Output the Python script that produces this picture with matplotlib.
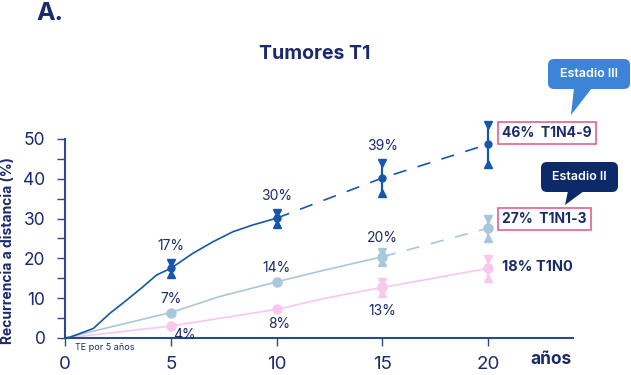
import matplotlib.pyplot as plt
from matplotlib.patches import FancyBboxPatch, Polygon

plt.rcParams['font.family'] = ['Inter', 'DejaVu Sans']

navy = '#1b2a6b'
axis_col = '#2b4a8a'
c_n49 = '#1657ad'
c_n13 = '#a9c7da'
c_n0 = '#f9c6ee'
box_edge = '#e2648e'

years = [5, 10, 15, 20]

# T1N4-9 : solid curve up to 10 years, dashed after
n49_curve_x = [0, 0.24, 1.34, 2.12, 2.91, 3.69, 4.32, 5, 6.05, 7.0, 7.94, 8.88, 10]
n49_curve_y = [0, 0.2, 2.4, 6.2, 9.5, 12.9, 15.8, 17.5, 21.3, 24.2, 26.7, 28.4, 30.1]
n49_pts = [17.5, 30.1, 40.2, 48.7]
n49_err = [1.4, 1.4, 3.8, 4.9]
n49_lbl = ['17%', '30%', '39%']

# T1N1-3 : solid up to 15 years, dashed after
n13_curve_x = [0, 5, 7.3, 10, 12.3, 15]
n13_curve_y = [0, 6.4, 10.4, 14.1, 17.1, 20.4]
n13_pts = [6.4, 14.1, 20.4, 27.6]
n13_err = [0, 0, 1.25, 2.4]
n13_lbl = ['7%', '14%', '20%']

# T1N0
n0_curve_x = [0, 5, 10, 12.3, 15, 20]
n0_curve_y = [0, 3.0, 7.2, 10.0, 12.7, 17.5]
n0_pts = [3.0, 7.2, 12.7, 17.5]
n0_err = [0, 0, 1.4, 2.4]
n0_lbl = ['4%', '8%', '13%']

end_lbl = ['46%  T1N4-9', '27%  T1N1-3', '18% T1N0']
stage_lbl = ['Estadio III', 'Estadio II']

fig = plt.figure(figsize=(6.31, 3.75), dpi=100)
ax = fig.add_axes([65 / 631, 37 / 375, 508 / 631, 219 / 375])
ax.set_xlim(0, 24)
ax.set_ylim(0, 55)


def errbars(xs, ys, es, col):
    for x, y, e in zip(xs, ys, es):
        if e <= 0:
            continue
        ax.plot([x, x], [y - e, y + e], color=col, lw=1.6, zorder=4)
        ax.plot(x, y + e, marker='v', color=col, ms=6, zorder=4)
        ax.plot(x, y - e, marker='^', color=col, ms=6, zorder=4)


# pink T1N0
ax.plot(n0_curve_x, n0_curve_y, color=c_n0, lw=1.2, zorder=2)
errbars(years, n0_pts, n0_err, c_n0)
ax.plot(years, n0_pts, 'o', color=c_n0, ms=6.5, zorder=5)

# light blue T1N1-3
ax.plot(n13_curve_x, n13_curve_y, color=c_n13, lw=1.2, zorder=2)
ax.plot([15, 20], [n13_pts[2], n13_pts[3]], color=c_n13, lw=1.2,
        dashes=(8, 7), zorder=2)
errbars(years, n13_pts, n13_err, c_n13)
ax.plot(years, n13_pts, 'o', color=c_n13, ms=6.5, zorder=5)

# dark blue T1N4-9
ax.plot(n49_curve_x, n49_curve_y, color=c_n49, lw=1.2, zorder=3)
ax.plot(years[1:], n49_pts[1:], color=c_n49, lw=1.2, dashes=(8, 7), zorder=3)
errbars(years, n49_pts, n49_err, c_n49)
ax.plot(years, n49_pts, 'o', color=c_n49, ms=5, zorder=5)

# value labels
for x, y, e, t in zip(years, n49_pts, n49_err, n49_lbl):
    ax.annotate(t, (x, y + e), xytext=(0, 17), textcoords='offset pixels',
                ha='center', va='center', fontsize=10, color=navy)
for x, y, e, t in zip(years, n13_pts, n13_err, n13_lbl):
    ax.annotate(t, (x, y + e), xytext=(0, 14), textcoords='offset pixels',
                ha='center', va='center', fontsize=10, color=navy)
for x, y, e, t, dx, dy in zip(years, n0_pts, n0_err, n0_lbl,
                              [14, 2, 0], [-9, -15, -18]):
    ax.annotate(t, (x, y - e), xytext=(dx, dy),
                textcoords='offset pixels',
                ha='center', va='center', fontsize=10, color=navy,
                annotation_clip=False)

# end labels
box = dict(boxstyle='square,pad=0.3', fc='white', ec=box_edge, lw=1.2)
ax.annotate(end_lbl[0], (20, n49_pts[3]), xytext=(14, 11),
            textcoords='offset pixels', ha='left', va='center',
            fontsize=10, fontweight='bold', color=navy, bbox=box,
            annotation_clip=False)
ax.annotate(end_lbl[1], (20, n13_pts[3]), xytext=(14, 9),
            textcoords='offset pixels', ha='left', va='center',
            fontsize=10, fontweight='bold', color=navy, bbox=box,
            annotation_clip=False)
ax.annotate(end_lbl[2], (20, n0_pts[3]), xytext=(14, 1),
            textcoords='offset pixels', ha='left', va='center',
            fontsize=10.5, fontweight='bold', color=navy,
            annotation_clip=False)

# axes styling
for s in ['top', 'right']:
    ax.spines[s].set_visible(False)
for s in ['left', 'bottom']:
    ax.spines[s].set_color(axis_col)
    ax.spines[s].set_linewidth(1.5)
ax.spines['left'].set_bounds(0, 50)
ax.set_yticks(range(0, 51, 10))
ax.set_yticks(range(5, 50, 10), minor=True)
ax.set_xticks([0, 5, 10, 15, 20])
ax.tick_params(axis='y', which='both', colors=axis_col, length=6, width=1,
               labelcolor=navy, labelsize=12.5, pad=8)
ax.tick_params(axis='x', colors=axis_col, length=6, width=1,
               labelcolor=navy, labelsize=13.5, pad=7)
ax.set_ylabel('Recurrencia a distancia (%)', fontsize=10, fontweight='bold',
              color=navy)
ax.yaxis.set_label_coords(-0.098, 0.40)

# overlay in pixel coords for decorations
ov = fig.add_axes([0, 0, 1, 1], zorder=10)
ov.set_xlim(0, 631)
ov.set_ylim(375, 0)
ov.axis('off')

ov.text(36, 14, 'A.', fontsize=18, fontweight='bold', color=navy,
        ha='left', va='center')
ov.text(315, 54, 'Tumores T1', fontsize=14, fontweight='bold', color=navy,
        ha='center', va='center')
ov.text(551, 360, 'años', fontsize=12.5, fontweight='bold', color=navy,
        ha='center', va='center')
ov.text(75, 348, 'TE por 5 años', fontsize=6.5, color=navy,
        ha='left', va='center')


def bubble(x0, y0, x1, y1, tail, col, txt):
    ov.add_patch(FancyBboxPatch((x0, y0), x1 - x0, y1 - y0,
                                boxstyle='round,pad=0,rounding_size=6',
                                fc=col, ec='none'))
    ov.add_patch(Polygon(tail, closed=True, fc=col, ec='none'))
    ov.text((x0 + x1) / 2, (y0 + y1) / 2, txt, color='white', fontsize=9,
            fontweight='semibold', ha='center', va='center')


bubble(548, 59, 630, 89, [(574, 88), (592, 88), (571, 115)], '#3d84d8',
       stage_lbl[0])
bubble(541, 162, 618, 192, [(568, 191), (584, 191), (565, 205)], '#0c2a6a',
       stage_lbl[1])

fig.savefig('out.png', dpi=100)
